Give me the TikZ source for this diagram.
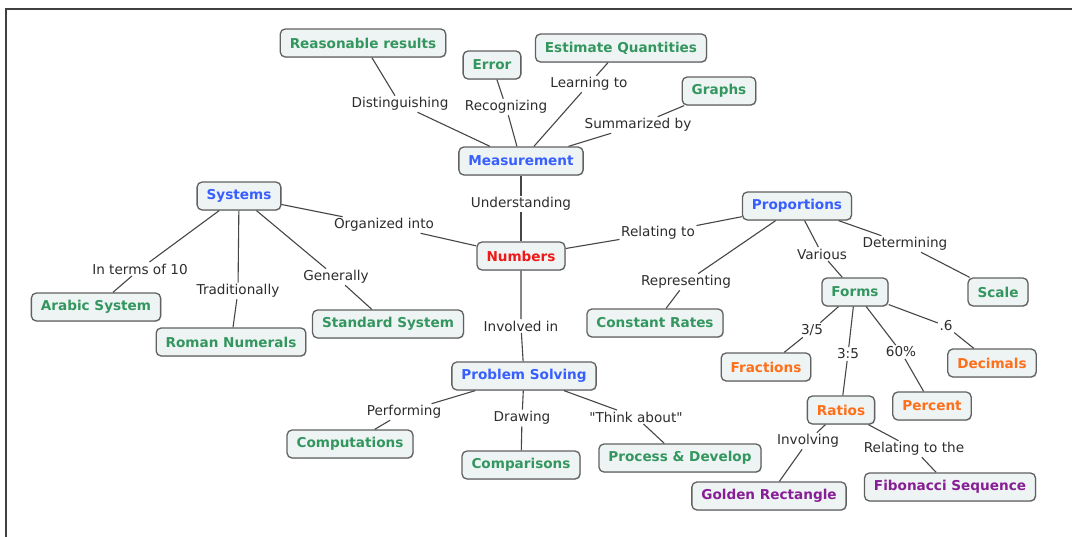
\documentclass[tikz,border=0pt]{standalone}
\usepackage{fontspec}
\setmainfont{DejaVu Sans}[Ligatures=TeXOff]
\usetikzlibrary{shadows}
\definecolor{cgreen}{RGB}{52,150,95}
\definecolor{cblue}{RGB}{55,95,255}
\definecolor{cred}{RGB}{240,25,25}
\definecolor{corange}{RGB}{255,110,25}
\definecolor{cpurple}{RGB}{135,30,150}
\definecolor{cfill}{RGB}{238,244,244}
\definecolor{cline}{RGB}{70,70,70}
\definecolor{ctext}{RGB}{45,45,45}
\tikzset{
  concept/.style={draw=black!62, line width=1.3pt, fill=cfill, rounded corners=5pt,
    minimum height=28pt, inner xsep=9.5pt, inner ysep=3pt,
    font=\fontsize{13.6}{15}\selectfont\bfseries,
    drop shadow={shadow xshift=0.8pt, shadow yshift=-0.8pt, fill=black!30}},
  gnode/.style={concept, text=cgreen},
  bnode/.style={concept, text=cblue},
  rnode/.style={concept, text=cred},
  onode/.style={concept, text=corange},
  pnode/.style={concept, text=cpurple},
  lab/.style={font=\fontsize{13.6}{15}\selectfont, text=ctext, inner sep=1.5pt},
  link/.style={draw=cline, line width=1.1pt}
}
\begin{document}
\begin{tikzpicture}[x=1pt,y=-1pt]
\useasboundingbox (0,0) rectangle (1072,537);
\fill[white] (0,0) rectangle (1072,537);
% frame
\draw[black!75, line width=1.6pt] (6,537) -- (6,9) -- (1072,9);

% concepts
\node[gnode] (reas) at (363,43) {Reasonable results};
\node[gnode] (err) at (492,65) {Error};
\node[gnode] (est) at (621,48) {Estimate Quantities};
\node[gnode] (graphs) at (719,91) {Graphs};
\node[bnode] (meas) at (521,161) {Measurement};
\node[bnode] (sys) at (239,196) {Systems};
\node[rnode] (num) at (521,256) {Numbers};
\node[bnode] (prop) at (797,206) {Proportions};
\node[gnode] (arabic) at (96,307) {Arabic System};
\node[gnode] (roman) at (231,342) {Roman Numerals};
\node[gnode] (standard) at (388,324) {Standard System};
\node[gnode] (const) at (655,323) {Constant Rates};
\node[gnode] (forms) at (855,292) {Forms};
\node[gnode] (scale) at (998,292) {Scale};
\node[bnode] (ps) at (524,376) {Problem Solving};
\node[onode] (frac) at (766,367) {Fractions};
\node[onode] (dec) at (992,363) {Decimals};
\node[onode] (ratios) at (841,410) {Ratios};
\node[onode] (percent) at (932,406) {Percent};
\node[gnode] (comp) at (350,444) {Computations};
\node[gnode] (compar) at (521,465) {Comparisons};
\node[gnode] (proc) at (680,458) {Process \& Develop};
\node[pnode] (golden) at (769,496) {Golden Rectangle};
\node[pnode] (fib) at (950,487) {Fibonacci Sequence};

% linking phrases
\node[lab] (lDist) at (400,104) {Distinguishing};
\node[lab] (lRec) at (506,107) {Recognizing};
\node[lab] (lLearn) at (589,84) {Learning to};
\node[lab] (lSum) at (638,125) {Summarized by};
\node[lab] (lUnd) at (521,204) {Understanding};
\node[lab] (lOrg) at (384,225) {Organized into};
\node[lab] (lRel) at (658,233) {Relating to};
\node[lab] (lTen) at (140,269) {In terms of 10};
\node[lab] (lTrad) at (238,291) {Traditionally};
\node[lab] (lGen) at (336,277) {Generally};
\node[lab] (lVar) at (822,254) {Various};
\node[lab] (lDet) at (905,244) {Determining};
\node[lab] (lRep) at (686,282) {Representing};
\node[lab] (lInv) at (521,326) {Involved in};
\node[lab] (l35) at (812,330) {3/5};
\node[lab] (l3c5) at (848,354) {3:5};
\node[lab] (l60) at (901,352) {60\%};
\node[lab] (l6) at (946,326) {.6};
\node[lab] (lPerf) at (404,412) {Performing};
\node[lab] (lDraw) at (522,418) {Drawing};
\node[lab] (lThink) at (636,417) {"Think about"};
\node[lab] (lInvolv) at (808,441) {Involving};
\node[lab] (lRelThe) at (914,449) {Relating to the};

% connectors
\draw[link] (reas) -- (lDist) -- (meas);
\draw[link] (err) -- (lRec) -- (meas);
\draw[link] (est) -- (lLearn) -- (meas);
\draw[link] (graphs) -- (lSum) -- (meas);
\draw[link] (meas) -- (lUnd) -- (num);
\draw[link] (sys) -- (lOrg) -- (num);
\draw[link] (num) -- (lRel) -- (prop);
\draw[link] (num) -- (lInv) -- (ps);
\draw[link] (sys) -- (lTen) -- (arabic);
\draw[link] (sys) -- (lTrad) -- (roman);
\draw[link] (sys) -- (lGen) -- (standard);
\draw[link] (prop) -- (lRep) -- (const);
\draw[link] (prop) -- (lVar) -- (forms);
\draw[link] (prop) -- (lDet) -- (scale);
\draw[link] (forms) -- (l35) -- (frac);
\draw[link] (forms) -- (l3c5) -- (ratios);
\draw[link] (forms) -- (l60) -- (percent);
\draw[link] (forms) -- (l6) -- (dec);
\draw[link] (ps) -- (lPerf) -- (comp);
\draw[link] (ps) -- (lDraw) -- (compar);
\draw[link] (ps) -- (lThink) -- (proc);
\draw[link] (ratios) -- (lInvolv) -- (golden);
\draw[link] (ratios) -- (lRelThe) -- (fib);
\end{tikzpicture}
\end{document}
